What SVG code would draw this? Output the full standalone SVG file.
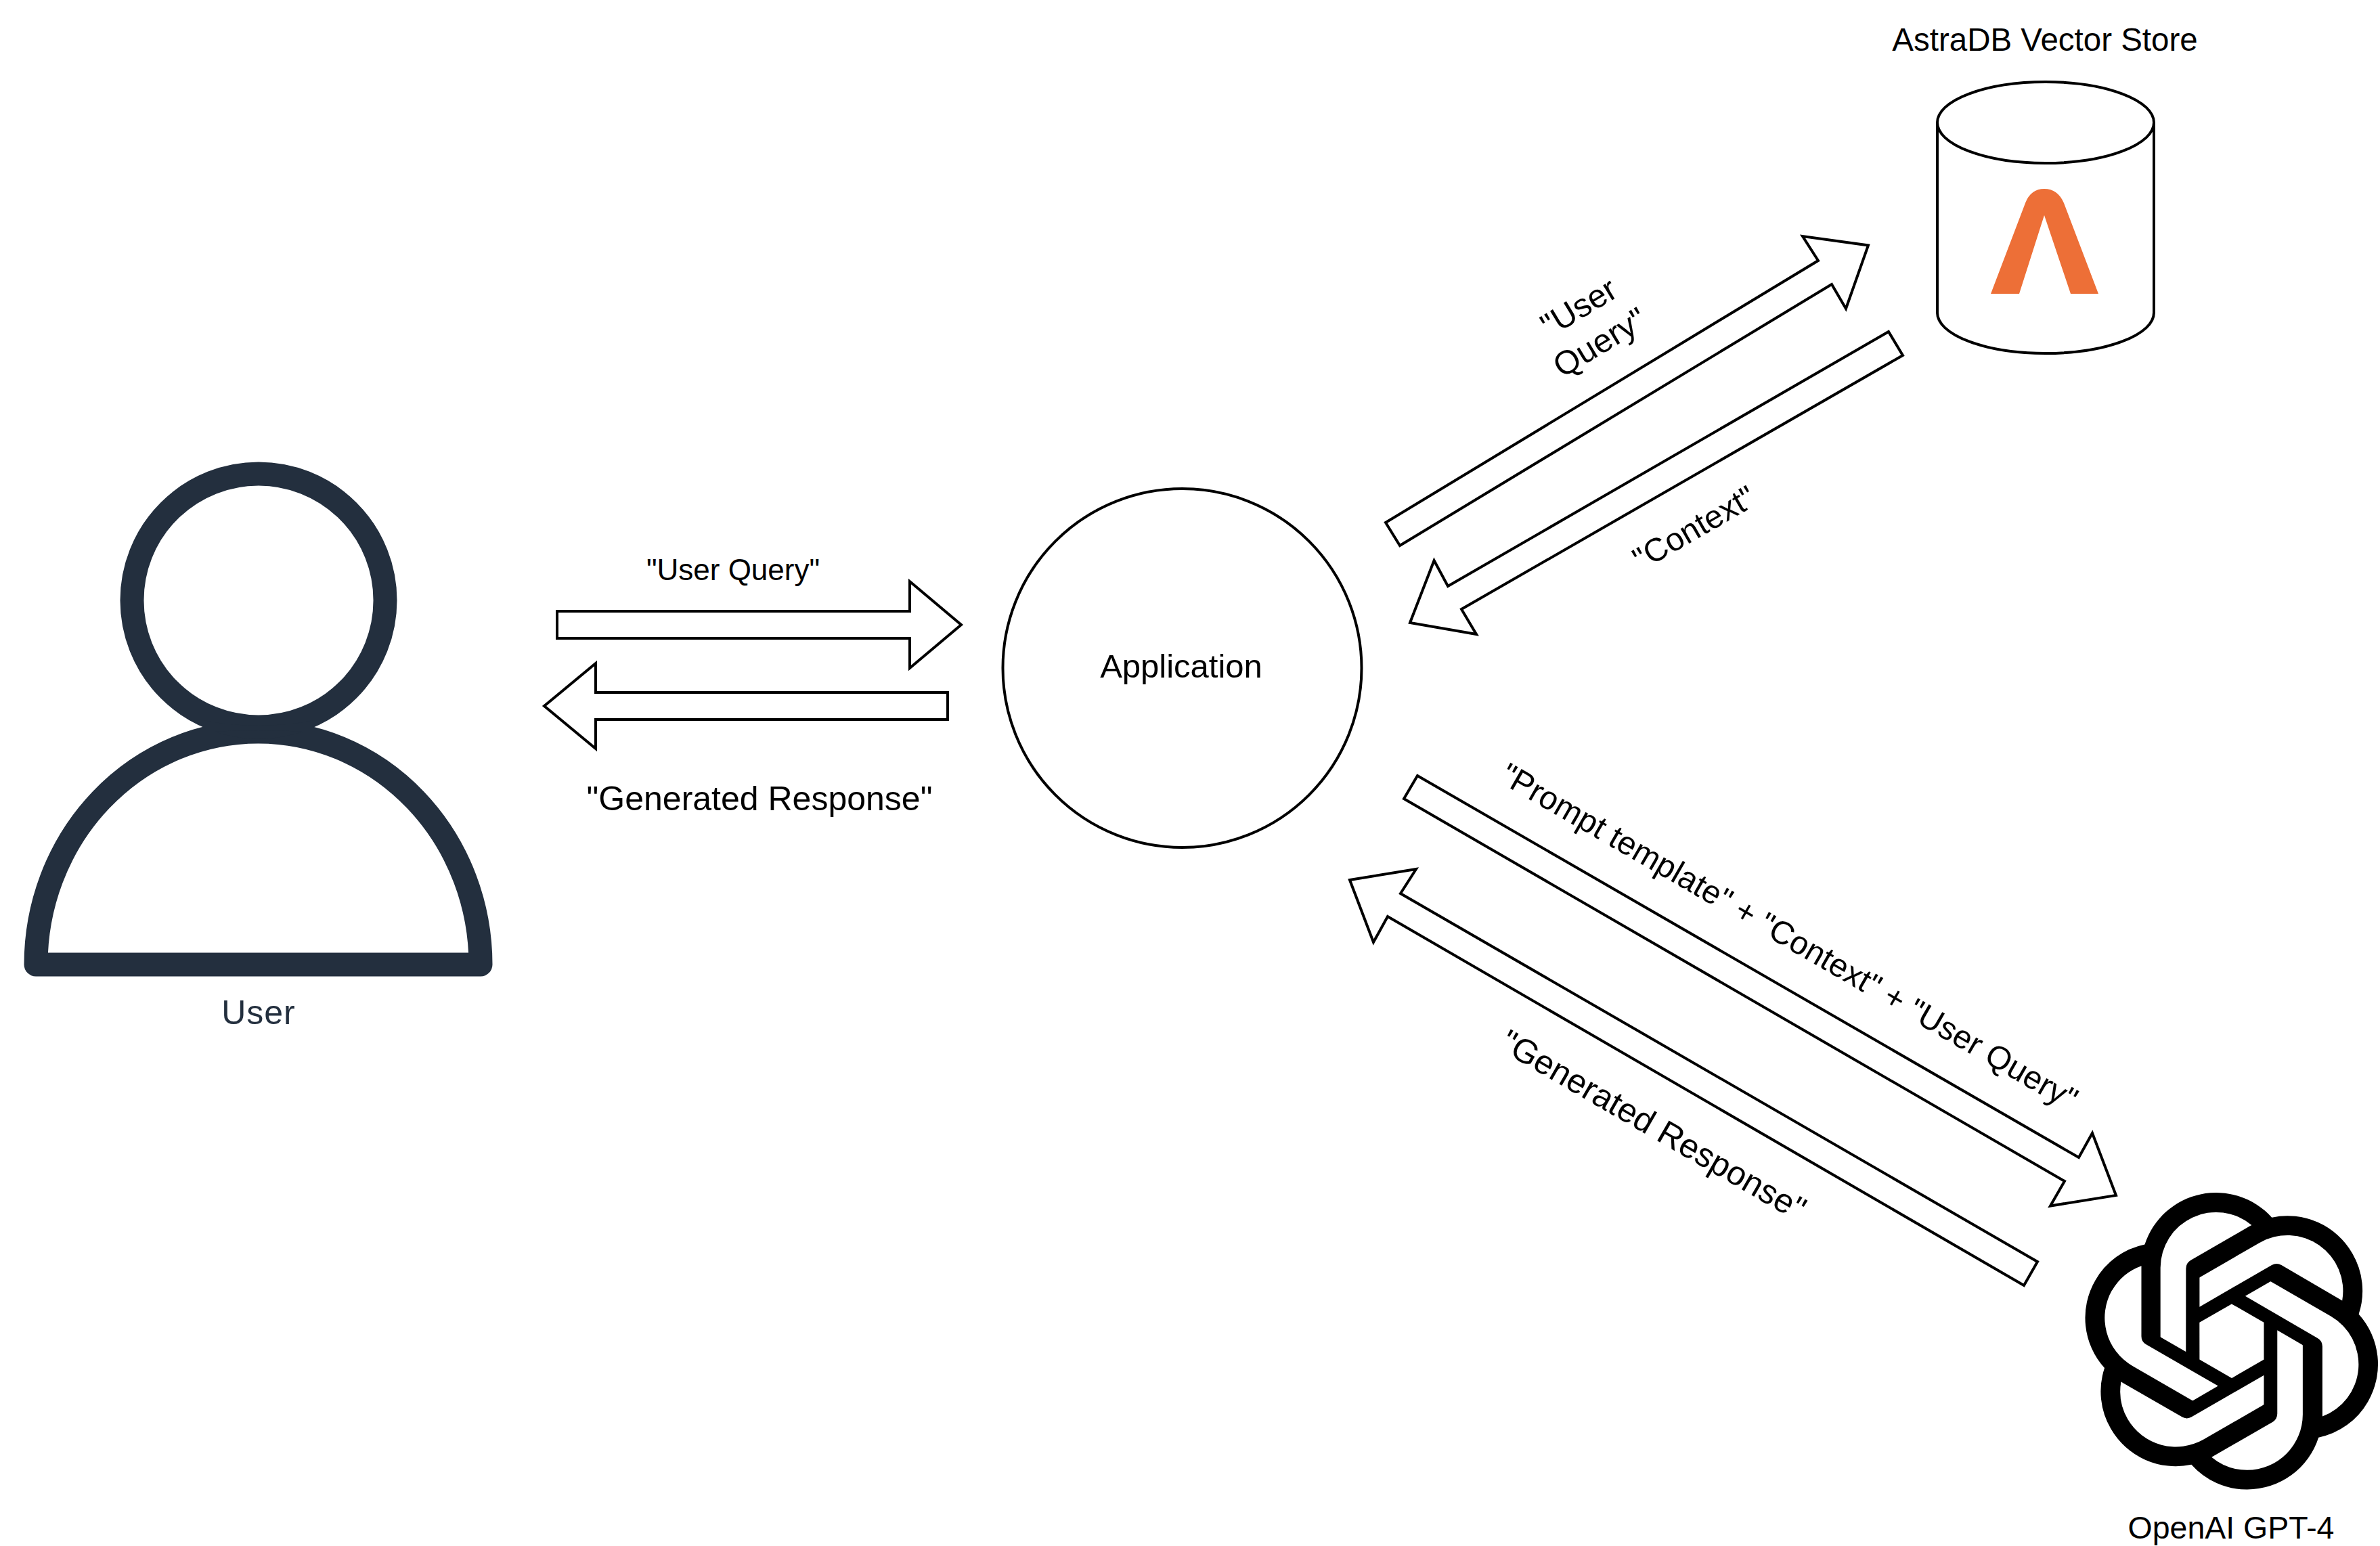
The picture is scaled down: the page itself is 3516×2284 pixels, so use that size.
<svg xmlns="http://www.w3.org/2000/svg" width="3516" height="2284" viewBox="0 0 3516 2284">
<style>
text{font-family:"Liberation Sans",Arial,sans-serif;fill:#000;text-anchor:middle}
.s{fill:#fff;stroke:#000;stroke-width:4;stroke-linejoin:miter}
.f44{font-size:44px}.f48{font-size:48px}.f49{font-size:49px}.f50{font-size:50px}
</style>
<rect width="3516" height="2284" fill="#fff"/>
<g id="user">
<path d="M53 1425A328.5 344 0 0 1 710 1425Z" fill="#fff" stroke="#232F3E" stroke-width="35" stroke-linejoin="round"/>
<circle cx="382" cy="887" r="187" fill="#fff" stroke="#232F3E" stroke-width="35"/>
<path d="M300 1064Q382 1080 464 1064L464 1082 Q382 1076 300 1082Z" fill="#232F3E"/>
<text x="382" y="1513" class="f50" style="fill:#232F3E;letter-spacing:1px">User</text>
</g>
<g id="application">
<ellipse cx="1746.5" cy="987" rx="265" ry="265" class="s"/>
<text x="1745" y="1001" class="f49">Application</text>
</g>
<g id="astradb">
<path d="M2862 181A160 60 0 0 1 3182 181V462A160 60 0 0 1 2862 462Z" class="s"/>
<path d="M2862 181A160 60 0 0 0 3182 181" class="s" style="fill:none"/>
<path d="M2941 434L2992 300Q3000 279 3020 279Q3040 279 3049 300L3100 434H3059L3020 318L2983 434Z" fill="#ED6F37"/>
<text x="3021" y="75" style="font-size:47.5px">AstraDB Vector Store</text>
</g>
<g id="openai">
<path transform="translate(3077.5 1762) scale(18.27)" fill="#000" d="M22.2819 9.8211a5.9847 5.9847 0 0 0-.5157-4.9108 6.0462 6.0462 0 0 0-6.5098-2.9A6.0651 6.0651 0 0 0 4.9807 4.1818a5.9847 5.9847 0 0 0-3.9977 2.9 6.0462 6.0462 0 0 0 .7427 7.0966 5.98 5.98 0 0 0 .511 4.9107 6.051 6.051 0 0 0 6.5146 2.9001A5.9847 5.9847 0 0 0 13.2599 24a6.0557 6.0557 0 0 0 5.7718-4.2058 5.9894 5.9894 0 0 0 3.9977-2.9001 6.0557 6.0557 0 0 0-.7475-7.0729zm-9.022 12.6081a4.4755 4.4755 0 0 1-2.8764-1.0408l.1419-.0804 4.7783-2.7582a.7948.7948 0 0 0 .3927-.6813v-6.7369l2.02 1.1686a.071.071 0 0 1 .038.052v5.5826a4.504 4.504 0 0 1-4.4945 4.4944zm-9.6607-4.1254a4.4708 4.4708 0 0 1-.5346-3.0137l.142.0852 4.783 2.7582a.7712.7712 0 0 0 .7806 0l5.8428-3.3685v2.3324a.0804.0804 0 0 1-.0332.0615L9.74 19.9502a4.4992 4.4992 0 0 1-6.1408-1.6464zM2.3408 7.8956a4.485 4.485 0 0 1 2.3655-1.9728V11.6a.7664.7664 0 0 0 .3879.6765l5.8144 3.3543-2.0201 1.1685a.0757.0757 0 0 1-.071 0l-4.8303-2.7865A4.504 4.504 0 0 1 2.3408 7.872zm16.5963 3.8558L13.1038 8.364 15.1192 7.2a.0757.0757 0 0 1 .071 0l4.8303 2.7913a4.4944 4.4944 0 0 1-.6765 8.1042v-5.6772a.79.79 0 0 0-.407-.667zm2.0107-3.0231l-.142-.0852-4.7735-2.7818a.7759.7759 0 0 0-.7854 0L9.409 9.2297V6.8974a.0662.0662 0 0 1 .0284-.0615l4.8303-2.7866a4.4992 4.4992 0 0 1 6.6802 4.66zM8.3065 12.863l-2.02-1.1638a.0804.0804 0 0 1-.038-.0567V6.0742a4.4992 4.4992 0 0 1 7.3757-3.4537l-.142.0805L8.704 5.459a.7948.7948 0 0 0-.3927.6813zm1.0976-2.3654l2.602-1.4998 2.6069 1.4998v2.9994l-2.5974 1.4997-2.6067-1.4997Z"/>
<text x="3296" y="2273" style="font-size:46.5px">OpenAI GPT-4</text>
</g>
<g id="connectors">
<polygon class="s" points="823,903 1344,903 1344,859 1420,923 1344,987 1344,943 823,943"/>
<polygon class="s" points="1400,1023 880,1023 880,980 804,1043 880,1106 880,1063 1400,1063"/>
<polygon class="s" points="2047,772 2686,385 2663,349 2760,362.5 2727,456 2706,420 2068,806"/>
<polygon class="s" points="2790,490 2811,525 2159,900 2181,937 2083,920 2118.6,828 2139,866"/>
<polygon class="s" points="2094,1146 3071,1710 3091,1674 3126,1766 3029,1781.5 3050,1745 2074,1180"/>
<polygon class="s" points="1994,1300 2092,1284 2069,1320 3010,1864 2990,1899 2050,1354 2029,1392"/>
<text x="1083" y="857" class="f44">"User Query"</text>
<text x="1122" y="1197" class="f50">"Generated Response"</text>
<g transform="translate(2341 468) rotate(-31.2)"><text class="f49">"User</text></g>
<g transform="translate(2372 520) rotate(-31.2)"><text class="f49">Query"</text></g>
<g transform="translate(2511 794) rotate(-30)"><text class="f48">"Context"</text></g>
<g transform="translate(2635 1398) rotate(30)"><text class="f48">"Prompt template" + "Context" + "User Query"</text></g>
<g transform="translate(2434 1677) rotate(30)"><text class="f50">"Generated Response"</text></g>
</g>
</svg>
